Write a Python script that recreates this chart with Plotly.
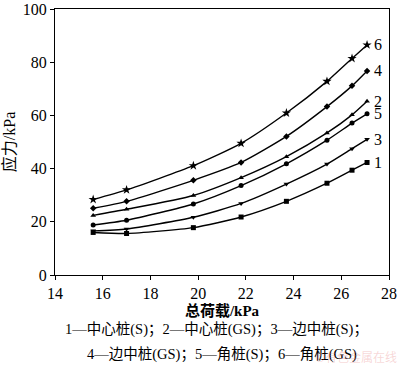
import plotly.graph_objects as go

load = [15.6, 17.0, 19.8, 21.8, 23.7, 25.4, 26.45, 27.08]
s1 = [16.0, 15.6, 17.8, 21.8, 27.7, 34.5, 39.4, 42.3]
s2 = [22.4, 24.7, 29.9, 36.6, 44.5, 53.4, 60.2, 65.3]
s3 = [16.6, 17.3, 21.7, 26.9, 34.2, 41.7, 47.5, 51.0]
s4 = [25.1, 27.7, 35.6, 42.3, 52.1, 63.3, 71.1, 76.7]
s5 = [18.8, 20.6, 26.7, 33.6, 41.8, 50.7, 57.1, 60.6]
s6 = [28.4, 32.0, 41.1, 49.5, 60.9, 72.8, 81.4, 86.5]
labels = ["1", "2", "3", "4", "5", "6"]
symbols = ["square", "triangle-up", "triangle-down", "diamond", "circle", "star"]
series = [s1, s2, s3, s4, s5, s6]
xticks = [14, 16, 18, 20, 22, 24, 26, 28]
yticks = [0, 20, 40, 60, 80, 100]

serif = "Liberation Serif, Times New Roman, serif"
cjk = "Liberation Serif, Noto Sans CJK SC, serif"

fig = go.Figure()
for lab, sym, ys in zip(labels, symbols, series):
    fig.add_trace(go.Scatter(
        x=load, y=ys, mode="lines+markers",
        line=dict(color="black", width=1.4, shape="spline", smoothing=0.6),
        marker=dict(symbol=sym, size=5 if sym != "star" else 7, color="black"),
        showlegend=False, cliponaxis=False))
    fig.add_annotation(x=load[-1], y=ys[-1], text=lab, showarrow=False,
                       xanchor="left", xshift=5, yanchor="middle",
                       font=dict(family=serif, size=16, color="black"))

fig.add_annotation(xref="paper", yref="paper", x=0.485, y=-0.205,
                   text="1—中心桩(S)；2—中心桩(GS)；3—边中桩(S)；",
                   showarrow=False, xanchor="center", yanchor="middle",
                   font=dict(family=cjk, size=14.5, color="black"))
fig.add_annotation(xref="paper", yref="paper", x=0.5, y=-0.297,
                   text="4—边中桩(GS)；5—角桩(S)；6—角桩(GS)",
                   showarrow=False, xanchor="center", yanchor="middle",
                   font=dict(family=cjk, size=14.5, color="black"))
fig.add_annotation(xref="paper", yref="paper", x=1.03, y=-0.305,
                   text="©有色金属在线", showarrow=False, xanchor="right",
                   yanchor="middle",
                   font=dict(family="Noto Sans CJK SC", size=12, color="rgba(230,120,120,0.3)"))

fig.update_layout(
    width=400, height=369,
    margin=dict(l=55, r=11, t=9, b=94, autoexpand=False),
    plot_bgcolor="white", paper_bgcolor="white",
    font=dict(family=serif, size=16, color="black"),
    xaxis=dict(range=[14, 28], tickvals=xticks, showgrid=False, zeroline=False,
               showline=True, linecolor="black", linewidth=1, mirror=True,
               ticks="outside", ticklen=4, tickcolor="black", automargin=False,
               title=dict(text="<b>总荷载/kPa</b>", standoff=2,
                          font=dict(family=cjk, size=15))),
    yaxis=dict(range=[0, 100], tickvals=yticks, showgrid=False, zeroline=False,
               showline=True, linecolor="black", linewidth=1, mirror=True,
               ticks="outside", ticklen=4, tickcolor="black", automargin=False,
               title=dict(text="应力/kPa", standoff=5,
                          font=dict(family=cjk, size=16))),
)

fig.write_html("out.html", config={"displayModeBar": False},
               post_script="document.body.style.margin='0';document.body.style.overflow='hidden';")
